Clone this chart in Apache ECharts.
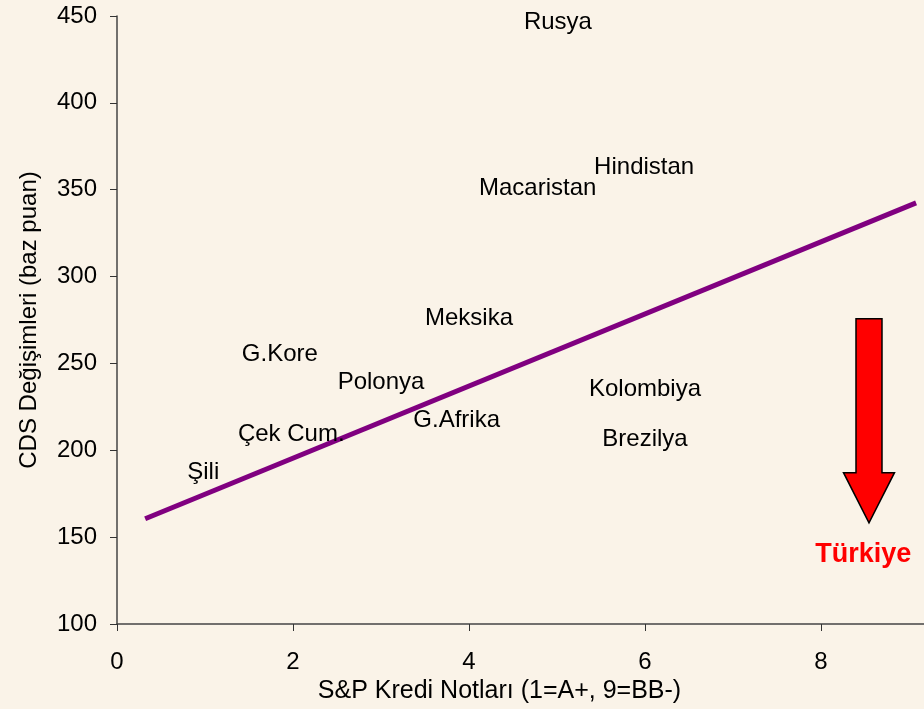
<!DOCTYPE html>
<html>
<head>
<meta charset="utf-8">
<script src="https://cdn.jsdelivr.net/npm/echarts@6/dist/echarts.min.js"></script>
<style>
  html, body { margin: 0; padding: 0; background: #faf3e8; }
  #chart { width: 924px; height: 709px; }
</style>
</head>
<body>
<div id="chart"></div>
<script>
const myChart = echarts.init(document.getElementById('chart'));

// country labels, placed where the text sits in the picture
let countries = ['Rusya', 'Hindistan', 'Macaristan', 'Meksika', 'G.Kore', 'Polonya',
  'G.Afrika', 'Çek Cum.', 'Şili', 'Kolombiya', 'Brezilya'];
let ratings = [5.01, 5.99, 4.78, 4.0, 1.85, 3.0, 3.86, 1.98, 0.98, 6.0, 6.0];
let cdsChange = [446.5, 363, 350.5, 276, 255, 239, 217, 209, 187.5, 235, 206];

// trend line end points
let trendX = [0.32, 9.08];
let trendY = [160.6, 342.4];

// Türkiye arrow: x, top, start of head, tip
let arrow = [8.545, 275.7, 187.1, 158.3];
let turkeyLabel = [8.48, 140];

let xTicks = [0, 2, 4, 6, 8];

const font = '"Liberation Sans", Arial, sans-serif';

let options = {
  backgroundColor: '#faf3e8',
  animation: false,
  grid: {
    left: 117,
    right: 0,
    top: 16,
    bottom: 85
  },
  xAxis: {
    type: 'value',
    min: 0,
    max: 9.17,
    interval: 2,
    name: 'S&P Kredi Notları (1=A+, 9=BB-)',
    nameLocation: 'middle',
    nameGap: 54,
    nameTextStyle: { fontFamily: font, fontSize: 25, color: '#000', padding: [0, 42, 0, 0] },
    axisLine: { lineStyle: { color: '#444', width: 1.5 } },
    axisTick: { show: true, length: 7, lineStyle: { color: '#333' } },
    axisLabel: {
      fontFamily: font, fontSize: 24, color: '#000', margin: 26,
      showMaxLabel: false,
      formatter: function (v) { return xTicks.indexOf(v) >= 0 ? v : ''; }
    },
    splitLine: { show: false }
  },
  yAxis: {
    type: 'value',
    min: 100,
    max: 450,
    interval: 50,
    name: 'CDS Değişimleri (baz puan)',
    nameLocation: 'middle',
    nameGap: 76,
    nameTextStyle: { fontFamily: font, fontSize: 24, color: '#000' },
    axisLine: { show: true, lineStyle: { color: '#444', width: 1.5 } },
    axisTick: { show: true, length: 7, lineStyle: { color: '#333' } },
    axisLabel: { fontFamily: font, fontSize: 24, color: '#000', margin: 20 },
    splitLine: { show: false }
  },
  series: [
    {
      type: 'line',
      data: [[trendX[0], trendY[0]], [trendX[1], trendY[1]]],
      showSymbol: false,
      lineStyle: { color: '#800080', width: 5 },
      z: 2
    },
    {
      type: 'scatter',
      symbolSize: 0,
      itemStyle: { opacity: 1 },
      data: countries.map(function (name, i) {
        return { name: name, value: [ratings[i], cdsChange[i]] };
      }),
      label: {
        show: true,
        position: 'inside',
        formatter: '{b}',
        fontFamily: font,
        fontSize: 24,
        color: '#000',
        opacity: 1,
        textBorderWidth: 0
      },
      z: 3
    },
    {
      type: 'custom',
      data: [arrow],
      renderItem: function (params, api) {
        const top = api.coord([api.value(0), api.value(1)]);
        const neck = api.coord([api.value(0), api.value(2)]);
        const tip = api.coord([api.value(0), api.value(3)]);
        const cx = top[0];
        return {
          type: 'polygon',
          shape: {
            points: [
              [cx - 13, top[1]], [cx + 13, top[1]], [cx + 13, neck[1]],
              [cx + 25.5, neck[1]], [cx, tip[1]], [cx - 25.5, neck[1]],
              [cx - 13, neck[1]]
            ]
          },
          style: { fill: '#ff0000', stroke: '#000', lineWidth: 1.5 }
        };
      },
      z: 4
    },
    {
      type: 'scatter',
      symbolSize: 0,
      itemStyle: { opacity: 1 },
      data: [{ name: 'Türkiye', value: turkeyLabel }],
      label: {
        show: true,
        position: 'inside',
        formatter: '{b}',
        fontFamily: font,
        fontSize: 27,
        fontWeight: 'bold',
        color: '#ff0000',
        opacity: 1,
        textBorderWidth: 0
      },
      z: 4
    }
  ]
};

myChart.setOption(options);
</script>
</body>
</html>
